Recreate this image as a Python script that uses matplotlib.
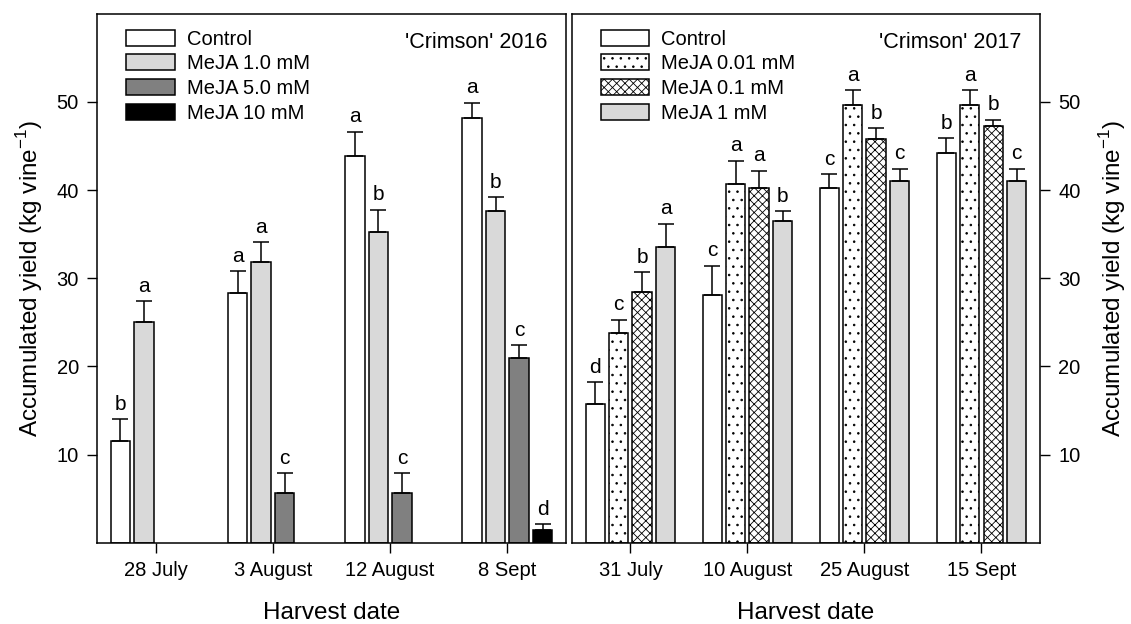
import numpy as np
import matplotlib as mpl
mpl.use('Agg')
import matplotlib.pyplot as plt

plt.rcParams['font.family'] = ['Liberation Sans', 'DejaVu Sans']
plt.rcParams['hatch.linewidth'] = 0.6
plt.rcParams['mathtext.fontset'] = 'custom'
plt.rcParams['mathtext.rm'] = 'Liberation Sans'

# 'Crimson' 2016
dates16 = ['28 July', '3 August', '12 August', '8 Sept']
labels16 = ['Control', 'MeJA 1.0 mM', 'MeJA 5.0 mM', 'MeJA 10 mM']
control16 = [11.5, 28.3, 43.9, 48.2]
control16_err = [2.5, 2.5, 2.7, 1.7]
meja1_16 = [25.0, 31.9, 35.3, 37.6]
meja1_16_err = [2.4, 2.2, 2.5, 1.6]
meja5_16 = [np.nan, 5.6, 5.6, 21.0]
meja5_16_err = [np.nan, 2.3, 2.3, 1.4]
meja10_16 = [np.nan, np.nan, np.nan, 1.5]
meja10_16_err = [np.nan, np.nan, np.nan, 0.6]
letters16 = [['b', 'a', 'a', 'a'],
             ['a', 'a', 'b', 'b'],
             ['', 'c', 'c', 'c'],
             ['', '', '', 'd']]

# 'Crimson' 2017
dates17 = ['31 July', '10 August', '25 August', '15 Sept']
labels17 = ['Control', 'MeJA 0.01 mM', 'MeJA 0.1 mM', 'MeJA 1 mM']
control17 = [15.8, 28.1, 40.2, 44.2]
control17_err = [2.4, 3.3, 1.6, 1.7]
meja001_17 = [23.8, 40.7, 49.6, 49.6]
meja001_17_err = [1.5, 2.6, 1.7, 1.7]
meja01_17 = [28.4, 40.2, 45.8, 47.3]
meja01_17_err = [2.3, 2.0, 1.2, 0.7]
meja1_17 = [33.6, 36.5, 41.0, 41.0]
meja1_17_err = [2.6, 1.1, 1.4, 1.4]
letters17 = [['d', 'c', 'c', 'b'],
             ['c', 'a', 'a', 'a'],
             ['b', 'a', 'b', 'b'],
             ['a', 'b', 'c', 'c']]

styles16 = [dict(facecolor='white'), dict(facecolor='#d9d9d9'),
            dict(facecolor='#808080'), dict(facecolor='black')]
styles17 = [dict(facecolor='white'), dict(facecolor='white', hatch='..'),
            dict(facecolor='white', hatch='xxxx'), dict(facecolor='#d9d9d9')]

fig = plt.figure(figsize=(11.31, 6.24), dpi=100)
ax1 = fig.add_axes([0.0858, 0.130, 0.4146, 0.848])
ax2 = fig.add_axes([0.5057, 0.130, 0.4138, 0.848])

offsets = [-0.3, -0.1, 0.1, 0.3]
width = 0.165


def draw(ax, dates, labels, series, errs, letters, styles, title):
    x = np.arange(len(dates)) + 0.5
    for i in range(4):
        vals = np.array(series[i], dtype=float)
        err = np.array(errs[i], dtype=float)
        ok = ~np.isnan(vals)
        xs = (x + offsets[i])[ok]
        ax.bar(xs, vals[ok], width, edgecolor='black',
               linewidth=1.1, label=labels[i], **styles[i])
        ax.errorbar(xs, vals[ok], yerr=[np.zeros(ok.sum()), err[ok]],
                    fmt='none', ecolor='black', elinewidth=1.1, capsize=6, capthick=1.1)
        for j in range(len(dates)):
            if ok[j]:
                ax.annotate(letters[i][j], (x[j] + offsets[i], vals[j] + err[j]),
                            xytext=(0, 4), textcoords='offset points',
                            ha='center', va='bottom', fontsize=15)
    ax.set_xlim(0, 4)
    ax.set_ylim(0, 60)
    ax.set_xticks(x)
    ax.set_xticklabels(dates, fontsize=14.5)
    ax.set_yticks([10, 20, 30, 40, 50])
    ax.tick_params(direction='out', length=7, width=1, labelsize=14.5, pad=6)
    ax.set_xlabel('Harvest date', fontsize=17.5, labelpad=16)
    ax.text(0.96, 0.965, title, transform=ax.transAxes, ha='right', va='top', fontsize=15.5)
    ax.legend(loc='upper left', bbox_to_anchor=(0.045, 0.985), frameon=False,
              fontsize=14.5, handlelength=2.4, handleheight=0.85,
              handletextpad=0.6, labelspacing=0.28, borderaxespad=0)
    for s in ax.spines.values():
        s.set_linewidth(1.1)


draw(ax1, dates16, labels16, [control16, meja1_16, meja5_16, meja10_16],
     [control16_err, meja1_16_err, meja5_16_err, meja10_16_err],
     letters16, styles16, "'Crimson' 2016")
draw(ax2, dates17, labels17, [control17, meja001_17, meja01_17, meja1_17],
     [control17_err, meja001_17_err, meja01_17_err, meja1_17_err],
     letters17, styles17, "'Crimson' 2017")

ylabel = 'Accumulated yield (kg vine$^{-1}$)'
ax1.set_ylabel(ylabel, fontsize=17.5, labelpad=8)
ax2.yaxis.tick_right()
ax2.yaxis.set_label_position('right')
ax2.set_ylabel(ylabel, fontsize=17.5, labelpad=12)

fig.savefig('out.png', dpi=100)
